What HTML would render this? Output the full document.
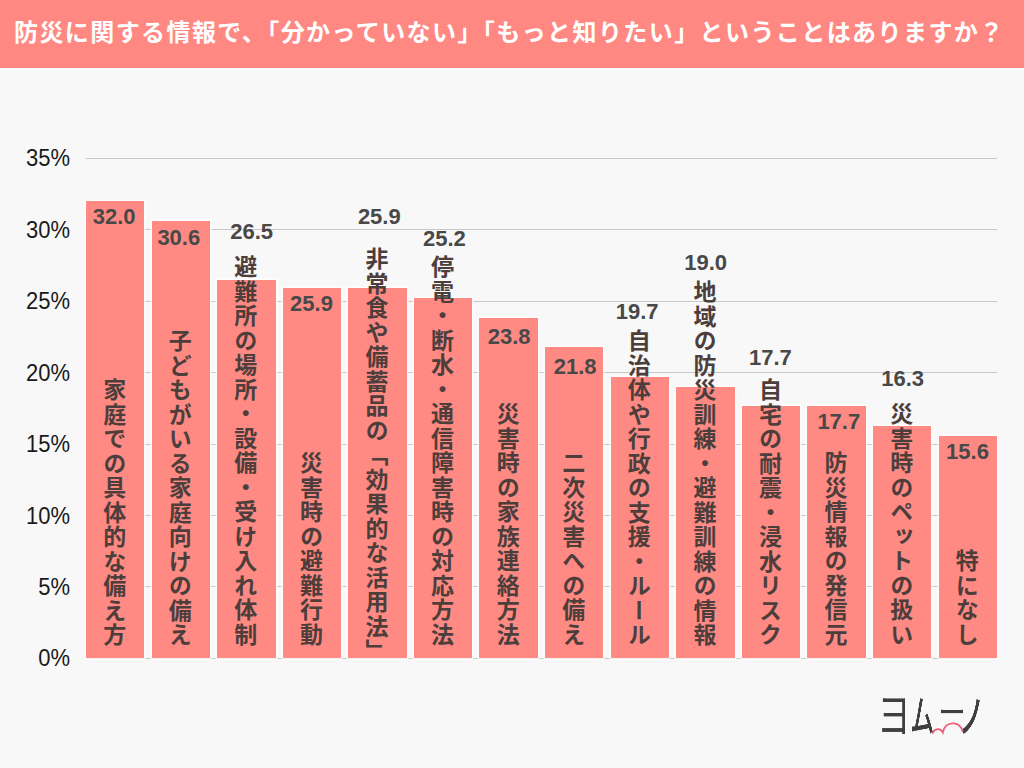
<!DOCTYPE html>
<html lang="ja"><head><meta charset="utf-8">
<style>
html,body{margin:0;padding:0;}
body{width:1024px;height:768px;overflow:hidden;position:relative;background:#f8f8f8;
 font-family:"Liberation Sans","Noto Sans CJK JP",sans-serif;}
.hdr{position:absolute;left:0;top:0;width:1024px;height:68px;background:#ff8882;}
.ttl{position:absolute;left:14px;top:18px;font-size:24px;line-height:30px;letter-spacing:1.42px;font-weight:700;color:#fff;white-space:nowrap;
 font-family:"Liberation Sans","Noto Sans CJK JP",sans-serif;}
.grid{position:absolute;left:86px;width:911px;height:1px;background:#c8c8c8;}
.hl{position:absolute;left:0;top:68px;width:1024px;height:2px;background:#fdfdfd;}
.ylab{position:absolute;right:954px;transform:scaleY(1.09);font-size:22px;line-height:22px;margin-top:-11px;color:#1a1a1a;
 font-family:"Liberation Sans","Noto Sans CJK JP",sans-serif;}
.bar{position:absolute;width:58.4px;background:#ff8a84;box-shadow:0 0 0 1.5px rgba(255,255,255,.75);}
.val{position:absolute;width:60px;text-align:center;font-size:22px;line-height:20px;font-weight:700;color:#484848;margin-top:-2.6px;}
.lab{position:absolute;bottom:121px;width:30px;writing-mode:vertical-rl;font-size:23px;line-height:30px;font-weight:700;color:#4d3e3c;
 font-family:"Liberation Sans","Noto Sans CJK JP",sans-serif;letter-spacing:1.5px;}
.lg{position:absolute;font-size:100px;line-height:100px;font-weight:350;color:#3f3f3f;transform-origin:0 0;white-space:nowrap;will-change:transform;
 font-family:"Liberation Sans","Noto Sans CJK JP",sans-serif;}
.arc{position:absolute;left:0;top:0;}
</style></head><body>
<div class="hl"></div><div class="hdr"><div class="ttl">防災に関する情報で、「分かっていない」「もっと知りたい」ということはありますか？</div></div>
<div class="grid" style="top:157.90px"></div><div class="grid" style="top:229.33px"></div><div class="grid" style="top:300.76px"></div><div class="grid" style="top:372.19px"></div><div class="grid" style="top:443.61px"></div><div class="grid" style="top:515.04px"></div><div class="grid" style="top:586.47px"></div><div class="grid" style="top:657.90px"></div>
<div class="ylab" style="top:158.40px">35%</div><div class="ylab" style="top:229.83px">30%</div><div class="ylab" style="top:301.26px">25%</div><div class="ylab" style="top:372.69px">20%</div><div class="ylab" style="top:444.11px">15%</div><div class="ylab" style="top:515.54px">10%</div><div class="ylab" style="top:586.97px">5%</div><div class="ylab" style="top:658.40px">0%</div>
<div class="bar" style="left:86.00px;top:201.26px;height:457.14px"></div><div class="bar" style="left:151.58px;top:221.26px;height:437.14px"></div><div class="bar" style="left:217.16px;top:279.83px;height:378.57px"></div><div class="bar" style="left:282.74px;top:288.40px;height:370.00px"></div><div class="bar" style="left:348.32px;top:288.40px;height:370.00px"></div><div class="bar" style="left:413.90px;top:298.40px;height:360.00px"></div><div class="bar" style="left:479.48px;top:318.40px;height:340.00px"></div><div class="bar" style="left:545.06px;top:346.97px;height:311.43px"></div><div class="bar" style="left:610.64px;top:376.97px;height:281.43px"></div><div class="bar" style="left:676.22px;top:386.97px;height:271.43px"></div><div class="bar" style="left:741.80px;top:405.54px;height:252.86px"></div><div class="bar" style="left:807.38px;top:405.54px;height:252.86px"></div><div class="bar" style="left:872.96px;top:425.54px;height:232.86px"></div><div class="bar" style="left:938.54px;top:435.54px;height:222.86px"></div>
<div class="lab" style="left:97.70px">家庭での具体的な備え方</div><div class="lab" style="left:163.28px">子どもがいる家庭向けの備え</div><div class="lab" style="left:228.86px">避難所の場所・設備・受け入れ体制</div><div class="lab" style="left:294.44px">災害時の避難行動</div><div class="lab" style="left:360.02px;bottom:105px">非常食や備蓄品の「効果的な活用法」</div><div class="lab" style="left:425.60px">停電・断水・通信障害時の対応方法</div><div class="lab" style="left:491.18px">災害時の家族連絡方法</div><div class="lab" style="left:556.76px">二次災害への備え</div><div class="lab" style="left:622.34px">自治体や行政の支援・ルール</div><div class="lab" style="left:687.92px">地域の防災訓練・避難訓練の情報</div><div class="lab" style="left:753.50px">自宅の耐震・浸水リスク</div><div class="lab" style="left:819.08px">防災情報の発信元</div><div class="lab" style="left:884.66px">災害時のペットの扱い</div><div class="lab" style="left:950.24px">特になし</div>
<div class="val" style="left:84.20px;top:209.50px">32.0</div><div class="val" style="left:148.80px;top:230.20px">30.6</div><div class="val" style="left:221.60px;top:224.40px">26.5</div><div class="val" style="left:281.50px;top:296.70px">25.9</div><div class="val" style="left:349.30px;top:209.60px">25.9</div><div class="val" style="left:414.40px;top:231.10px">25.2</div><div class="val" style="left:479.10px;top:329.10px">23.8</div><div class="val" style="left:545.20px;top:359.70px">21.8</div><div class="val" style="left:607.20px;top:304.60px">19.7</div><div class="val" style="left:675.60px;top:256.00px">19.0</div><div class="val" style="left:740.40px;top:350.40px">17.7</div><div class="val" style="left:808.80px;top:414.50px">17.7</div><div class="val" style="left:872.60px;top:371.90px">16.3</div><div class="val" style="left:937.50px;top:444.50px">15.6</div>
<span class="lg" style="left:876.6px;top:690.74px;font-weight:350;transform:scale(0.3373,0.4904)">ヨ</span><span class="lg" style="left:910.41px;top:695.48px;font-weight:500;transform:scale(0.2414,0.4317)">ム</span><span class="lg" style="left:938.12px;top:691.39px;font-weight:350;transform:scale(0.2785,0.4375)">ー</span><span class="lg" style="left:958.32px;top:694.78px;font-weight:500;transform:scale(0.2676,0.4462)">ノ</span><svg class="arc" width="1024" height="768" viewBox="0 0 1024 768"><path d="M932.8,733 C934.5,728.3 940.6,727.6 942.8,732.3 C945.2,721.5 958.5,720 962.6,730.6" fill="none" stroke="#f0607a" stroke-width="1.9" stroke-linecap="round"/></svg>
</body></html>
